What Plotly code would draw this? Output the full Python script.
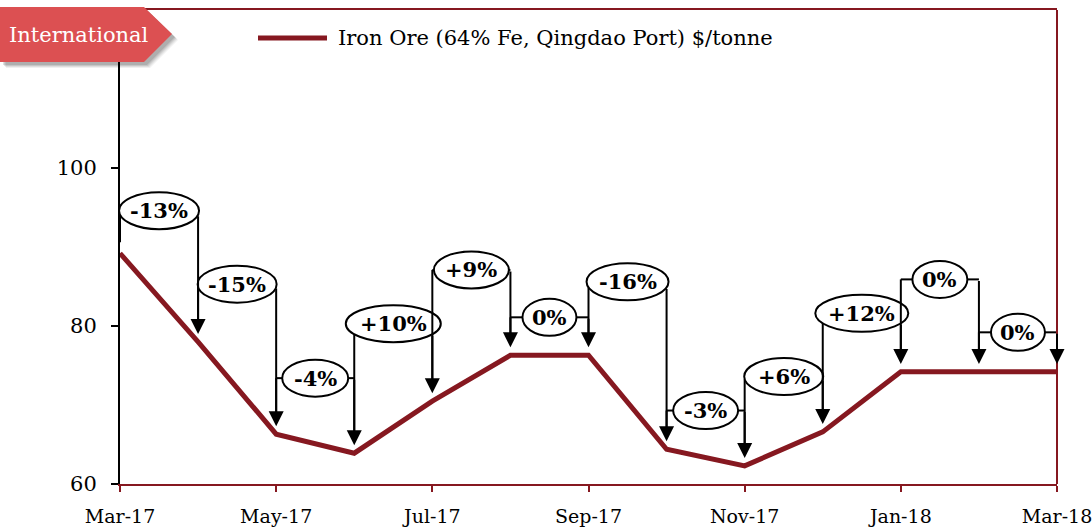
import math
import plotly.graph_objects as go

# ---------------- data ----------------
months = ["Mar-17", "Apr-17", "May-17", "Jun-17", "Jul-17", "Aug-17", "Sep-17",
          "Oct-17", "Nov-17", "Dec-17", "Jan-18", "Feb-18", "Mar-18"]
prices = [89.2, 78.0, 66.3, 63.9, 70.5, 76.3, 76.3, 64.4, 62.3, 66.6, 74.2, 74.2, 74.2]
change_labels = ["-13%", "-15%", "-4%", "+10%", "+9%", "0%", "-16%",
                 "-3%", "+6%", "+12%", "0%", "0%"]
label_levels = [94.6, 85.3, 73.4, 80.3, 87.1, 81.1, 85.6, 69.3, 73.6, 81.6, 85.9, 79.2]
tick_idx = [0, 2, 4, 6, 8, 10, 12]
tick_text = [months[i] for i in tick_idx]
y_ticks = [60, 80, 100]
series_name = "Iron Ore (64% Fe, Qingdao Port) $/tonne"
tag_text = "International"

# ---------------- style ----------------
W, H = 1092, 527
ML, MR, MT, MB = 120, 35, 10, 43
PW, PH = W - ML - MR, H - MT - MB
YMIN, YMAX = 60, 120
XMAX = len(months) - 1
px_per_x = PW / XMAX
px_per_y = PH / (YMAX - YMIN)
RED = "#861820"
TAG = "#DC5052"
FONT = "DejaVu Serif"
ellipse_w_px = [80, 79, 66, 95, 75, 54, 82, 65, 79, 93, 55, 54]
ellipse_h_px = 37


def px(x):
    return (x - ML) / PW


def py(y):
    return (MT + PH - y) / PH


x_vals = list(range(len(months)))

fig = go.Figure()
fig.add_trace(go.Scatter(x=x_vals, y=prices, mode="lines", name=series_name,
                         line=dict(color=RED, width=5), showlegend=False,
                         hoverinfo="skip"))

shapes = []
annotations = []

# brackets
b = ellipse_h_px / 2 / px_per_y
for i, lab in enumerate(change_labels):
    xc = i + 0.5
    yc = label_levels[i]
    a_px = ellipse_w_px[i] / 2
    a = a_px / px_per_x
    half = px_per_x / 2
    if a_px > half:
        off = (ellipse_h_px / 2) * math.sqrt(1 - (half / a_px) ** 2) / px_per_y
        ystart = yc - off
    else:
        ystart = yc
        shapes.append(dict(type="line", x0=i, x1=xc - a, y0=yc, y1=yc,
                           line=dict(color="black", width=2)))
        shapes.append(dict(type="line", x0=xc + a, x1=i + 1, y0=yc, y1=yc,
                           line=dict(color="black", width=2)))
    # left vertical
    shapes.append(dict(type="line", x0=i, x1=i, y0=ystart, y1=prices[i] + 1.4,
                       line=dict(color="black", width=2)))
    # ellipse
    shapes.append(dict(type="circle", x0=xc - a, x1=xc + a, y0=yc - b, y1=yc + b,
                       line=dict(color="black", width=2), fillcolor="white"))
    # arrow to next point
    annotations.append(dict(x=i + 1, y=prices[i + 1] + 1.0, ax=i + 1, ay=ystart,
                            xref="x", yref="y", axref="x", ayref="y", text="",
                            showarrow=True, arrowhead=2, arrowsize=1.5,
                            arrowwidth=2, arrowcolor="black", standoff=0,
                            startstandoff=0))
    annotations.append(dict(x=xc, y=yc, xref="x", yref="y", text="<b>%s</b>" % lab,
                            showarrow=False, xanchor="center", yanchor="middle",
                            font=dict(family=FONT, size=21, color="black")))

# right border
shapes.append(dict(type="line", xref="paper", yref="paper", x0=1, x1=1, y0=0, y1=1,
                   line=dict(color=RED, width=2)))


def poly(pts, dx=0, dy=0):
    return "M " + " L ".join("%f,%f" % (px(x + dx), py(y + dy)) for x, y in pts) + " Z"


tag_pts = [(0, 7), (144, 7), (172, 34), (144, 62), (0, 62)]
for k, alpha in [(6, 0.06), (5, 0.08), (4, 0.1), (3, 0.12)]:
    shapes.append(dict(type="path", xref="paper", yref="paper", path=poly(tag_pts, k, k),
                       fillcolor="rgba(0,0,0,%s)" % alpha, line=dict(width=0)))
shapes.append(dict(type="path", xref="paper", yref="paper", path=poly(tag_pts),
                   fillcolor=TAG, line=dict(width=0)))
annotations.append(dict(x=px(79), y=py(35), xref="paper", yref="paper", text=tag_text,
                        xanchor="center", yanchor="middle", showarrow=False,
                        font=dict(family=FONT, size=21, color="white")))

# legend (manual)
shapes.append(dict(type="line", xref="paper", yref="paper", x0=px(258), x1=px(327),
                   y0=py(38), y1=py(38), line=dict(color=RED, width=5)))
annotations.append(dict(x=px(336), y=py(38), xref="paper", yref="paper", text=series_name,
                        xanchor="left", yanchor="middle", showarrow=False,
                        font=dict(family=FONT, size=21, color="black")))

fig.update_layout(
    width=W, height=H, margin=dict(l=ML, r=MR, t=MT, b=MB),
    paper_bgcolor="white", plot_bgcolor="white",
    shapes=shapes, annotations=annotations,
    font=dict(family=FONT, size=18, color="black"),
    xaxis=dict(range=[0, XMAX], tickvals=tick_idx, ticktext=tick_text, automargin=False,
               showgrid=False, zeroline=False, showline=True, linecolor=RED,
               linewidth=2, mirror=True, ticks="outside", ticklen=6, tickwidth=2,
               tickcolor=RED, ticklabelstandoff=8, ticklabeloverflow="allow",
               tickfont=dict(family=FONT, size=19, color="black")),
    yaxis=dict(range=[YMIN, YMAX], tickvals=y_ticks, showgrid=False, zeroline=False,
               automargin=False,
               showline=True, linecolor="black", linewidth=2, ticks="outside",
               ticklen=7, tickwidth=2, tickcolor="black", ticklabelstandoff=10,
               tickfont=dict(family=FONT, size=21, color="black")),
)

fig.write_html("out.html", config={"displayModeBar": False},
               post_script="document.body.style.margin='0';document.body.style.overflow='hidden';")
